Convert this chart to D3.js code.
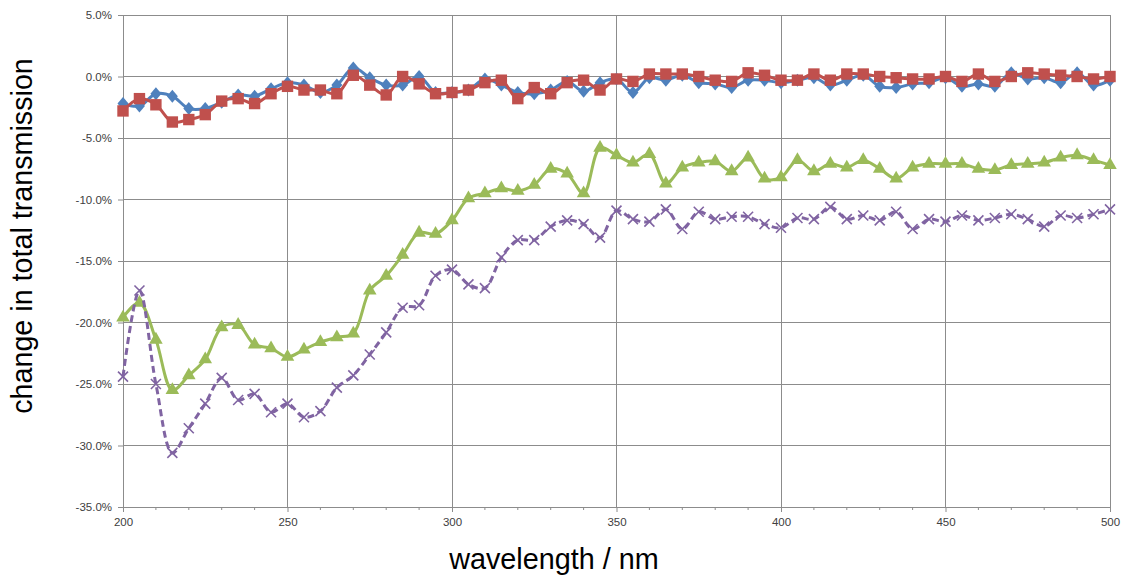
<!DOCTYPE html>
<html>
<head>
<meta charset="utf-8">
<script src="https://cdn.jsdelivr.net/npm/d3@7"></script>
<style>
  body { margin: 0; background: #fff; }
  svg { display: block; }
</style>
</head>
<body>
<div id="chart"></div>
<script>
// wavelengths 200..500 step 5
var wavelengths = d3.range(200, 501, 5);

var blueVals = [-2.2, -2.4, -1.4, -1.6, -2.6, -2.6, -2.1, -1.5, -1.6, -1.0, -0.5, -0.7, -1.3, -0.7, 0.7, -0.1, -0.7, -0.7, 0.0, -1.3,
  -1.3, -1.1, -0.2, -0.7, -1.3, -1.4, -1.1, -0.4, -1.2, -0.5, -0.2, -1.3, -0.1, -0.3, 0.1, -0.5, -0.6, -0.9, -0.3, -0.3,
  -0.5, -0.3, -0.1, -0.7, -0.3, 0.1, -0.8, -0.9, -0.6, -0.5, -0.1, -0.8, -0.6, -0.8, 0.3, -0.2, -0.1, -0.5, 0.3, -0.7, -0.3];
var redVals = [-2.8, -1.8, -2.3, -3.7, -3.5, -3.1, -2.0, -1.8, -2.2, -1.4, -0.8, -1.1, -1.1, -1.4, 0.1, -0.7, -1.5, 0.0, -0.6, -1.4,
  -1.3, -1.1, -0.5, -0.3, -1.8, -0.9, -1.4, -0.5, -0.3, -1.1, -0.2, -0.4, 0.2, 0.2, 0.2, 0.0, -0.3, -0.4, 0.3, 0.1,
  -0.3, -0.3, 0.2, -0.3, 0.2, 0.2, 0.0, -0.1, -0.2, -0.2, 0.0, -0.4, 0.2, -0.4, 0.0, 0.3, 0.2, 0.1, 0.0, -0.2, 0.0];
var greenVals = [-19.6, -18.4, -21.4, -25.5, -24.3, -23.0, -20.4, -20.2, -21.8, -22.1, -22.8, -22.2, -21.6, -21.2, -20.9, -17.4, -16.2, -14.5, -12.7, -12.8,
  -11.7, -9.9, -9.5, -9.1, -9.3, -8.8, -7.5, -7.9, -9.5, -5.8, -6.4, -7.0, -6.3, -8.7, -7.4, -7.0, -6.9, -7.7, -6.6, -8.3,
  -8.2, -6.8, -7.7, -7.1, -7.4, -6.8, -7.5, -8.3, -7.4, -7.1, -7.1, -7.1, -7.5, -7.6, -7.2, -7.1, -7.0, -6.6, -6.4, -6.8, -7.2];
var purpleVals = [-24.4, -17.4, -25.0, -30.6, -28.6, -26.6, -24.5, -26.3, -25.8, -27.3, -26.6, -27.7, -27.2, -25.3, -24.3, -22.6, -20.8, -18.8, -18.6, -16.2,
  -15.7, -16.9, -17.2, -14.7, -13.3, -13.3, -12.2, -11.7, -12.0, -13.1, -10.9, -11.6, -11.8, -10.8, -12.4, -11.0, -11.6, -11.4, -11.4, -12.0,
  -12.3, -11.5, -11.6, -10.6, -11.6, -11.3, -11.7, -11.0, -12.4, -11.6, -11.8, -11.3, -11.7, -11.5, -11.2, -11.6, -12.2, -11.3, -11.5, -11.2, -10.8];

var yTicks = [5, 0, -5, -10, -15, -20, -25, -30, -35];
var xTicks = [200, 250, 300, 350, 400, 450, 500];

var series = [
  { name: "blue", vals: blueVals, color: "#4F81BD", marker: "diamond", dash: null },
  { name: "red", vals: redVals, color: "#C0504D", marker: "square", dash: null },
  { name: "green", vals: greenVals, color: "#9BBB59", marker: "triangle", dash: null },
  { name: "purple", vals: purpleVals, color: "#8064A2", marker: "x", dash: "7,4" }
];

var W = 1124, H = 576;
var margin = { left: 123, right: 14, top: 15, bottom: 69 };

var svg = d3.select("#chart").append("svg")
  .attr("width", W).attr("height", H);

var x = d3.scaleLinear().domain([200, 500]).range([margin.left, W - margin.right]);
var y = d3.scaleLinear().domain([-35, 5]).range([H - margin.bottom, margin.top]);

// gridlines
svg.append("g").selectAll("line.h")
  .data(yTicks).join("line")
  .attr("x1", x(200)).attr("x2", x(500))
  .attr("y1", d => y(d)).attr("y2", d => y(d))
  .attr("stroke", "#8c8c8c").attr("stroke-width", 1).attr("shape-rendering", "crispEdges");
svg.append("g").selectAll("line.v")
  .data(xTicks).join("line")
  .attr("x1", d => x(d)).attr("x2", d => x(d))
  .attr("y1", y(5)).attr("y2", y(-35))
  .attr("stroke", "#8c8c8c").attr("stroke-width", 1).attr("shape-rendering", "crispEdges");

// x axis
var xAxis = d3.axisBottom(x).tickValues(xTicks).tickSize(5).tickPadding(6).tickFormat(d3.format("d"));
var gx = svg.append("g").attr("transform", `translate(0,${y(-35)})`).call(xAxis);
var minor = d3.range(200, 501, 10).filter(d => d % 50 !== 0);
gx.selectAll("line.minor").data(minor).join("line")
  .attr("class", "minor")
  .attr("x1", d => x(d)).attr("x2", d => x(d))
  .attr("y1", 0).attr("y2", 3)
  .attr("stroke", "#8c8c8c");

// y axis
var yAxis = d3.axisLeft(y).tickValues(yTicks).tickSize(5).tickPadding(6).tickFormat(d => d.toFixed(1) + "%");
var gy = svg.append("g").attr("transform", `translate(${x(200)},0)`).call(yAxis);

[gx, gy].forEach(g => {
  g.select(".domain").attr("stroke", "#8c8c8c").attr("shape-rendering", "crispEdges");
  g.selectAll(".tick line").attr("stroke", "#8c8c8c");
  g.selectAll("text")
    .attr("font-family", "Liberation Sans, Arial, sans-serif")
    .attr("font-size", 11.5)
    .attr("fill", "#404040");
});

// lines
var line = d3.line()
  .x((d, i) => x(wavelengths[i]))
  .y(d => y(d))
  .curve(d3.curveCatmullRom.alpha(0.5));

var markerPaths = {
  diamond: "M0,-6.5L5.5,0L0,6.5L-5.5,0Z",
  square: d3.symbol().type(d3.symbolSquare).size(130)(),
  triangle: d3.symbol().type(d3.symbolTriangle).size(80)(),
  x: "M-5,-5L5,5M-5,5L5,-5"
};

series.forEach(s => {
  var g = svg.append("g");
  g.append("path")
    .datum(s.vals)
    .attr("d", line)
    .attr("fill", "none")
    .attr("stroke", s.color)
    .attr("stroke-width", 3)
    .attr("stroke-linejoin", "round")
    .attr("stroke-dasharray", s.dash);

  var pts = g.selectAll("path.pt").data(s.vals).join("path")
    .attr("class", "pt")
    .attr("transform", (d, i) => `translate(${x(wavelengths[i])},${y(d)})`)
    .attr("d", markerPaths[s.marker]);
  if (s.marker === "x") {
    pts.attr("stroke", s.color).attr("stroke-width", 1.6).attr("fill", "none");
  } else {
    pts.attr("fill", s.color);
  }
});

// axis titles
svg.append("text")
  .attr("transform", `translate(32,236) rotate(-90)`)
  .attr("text-anchor", "middle")
  .attr("font-family", "Liberation Sans, Arial, sans-serif")
  .attr("font-size", 28.7)
  .attr("fill", "#000")
  .text("change in total transmission");

svg.append("text")
  .attr("x", 554).attr("y", 569)
  .attr("text-anchor", "middle")
  .attr("font-family", "Liberation Sans, Arial, sans-serif")
  .attr("font-size", 28.8)
  .attr("fill", "#000")
  .text("wavelength / nm");
</script>
</body>
</html>
